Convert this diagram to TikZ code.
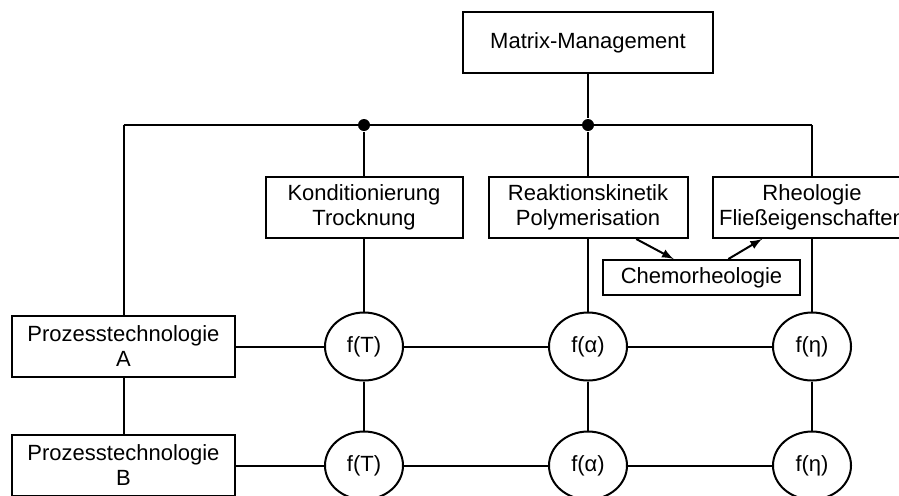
\documentclass[tikz,border=0pt]{standalone}
\usepackage{fontspec}
\setmainfont{Liberation Sans}
\usetikzlibrary{calc,positioning,shapes,arrows}

\begin{document}
\begin{tikzpicture}[x=0.5pt,y=-0.5pt,line width=1pt,>=latex,
  font=\fontsize{11}{12.5}\selectfont,
  box/.style={shape=rectangle,draw,align=center,inner sep=0pt,minimum height=30.5pt},
  fbox/.style={shape=ellipse,draw,inner sep=0pt,minimum width=39pt,minimum height=34pt},
  dot/.style={shape=circle,fill,inner sep=0pt,minimum size=6pt}]
\useasboundingbox (0,0) rectangle (899,495);
\node[box,minimum width=125pt](mm) at (588,42.5) {Matrix-Management};
\node[box,minimum width=98.5pt](kond) at (364,207.5) {Konditionierung\\Trocknung};
\node[box,minimum width=99.5pt](reak) at (588,207.5) {Reaktionskinetik\\Polymerisation};
\node[box,minimum width=99pt](rheo) at (812,207.5) {Rheologie\\Fließeigenschaften};
\node[box,minimum width=98.5pt,minimum height=17.5pt](chemo) at (701.5,277.5) {Chemorheologie};
\node[box,minimum width=111.5pt](protA) at (123.5,346.5) {Prozesstechnologie\\A};
\node[box,minimum width=111.5pt](protB) at (123.5,465.5) {Prozesstechnologie\\B};
\node[fbox](t1) at (364,346.5) {f(T)};
\node[fbox](a1) at (588,346.5) {f(α)};
\node[fbox](e1) at (812,346.5) {f(η)};
\node[fbox](t2) at (364,465.5) {f(T)};
\node[fbox](a2) at (588,465.5) {f(α)};
\node[fbox](e2) at (812,465.5) {f(η)};
\coordinate (busL) at (123.5,125);
\coordinate (busR) at (812,125);
\node[dot](j1) at (364,125) {};
\node[dot](j2) at (588,125) {};
\path
(busL) edge (busR)
(busR) edge (rheo)
(mm) edge (j2)
(j2) edge (reak)
(j1) edge (kond)
(busL) edge (protA)
(protA) edge (protB)
(kond) edge (t1)
(t1) edge (t2)
(reak) edge (a1)
(a1) edge (a2)
(rheo) edge (e1)
(e1) edge (e2)
(protA) edge (t1)
(t1) edge (a1)
(a1) edge (e1)
(protB) edge (t2)
(t2) edge (a2)
(a2) edge (e2);
\path [->]
($(reak.south west)!0.74!(reak.south east)$) edge ($(chemo.north west)!0.36!(chemo.north east)$)
($(chemo.north west)!0.635!(chemo.north east)$) edge ($(rheo.south west)!0.25!(rheo.south east)$);
\end{tikzpicture}
\end{document}
